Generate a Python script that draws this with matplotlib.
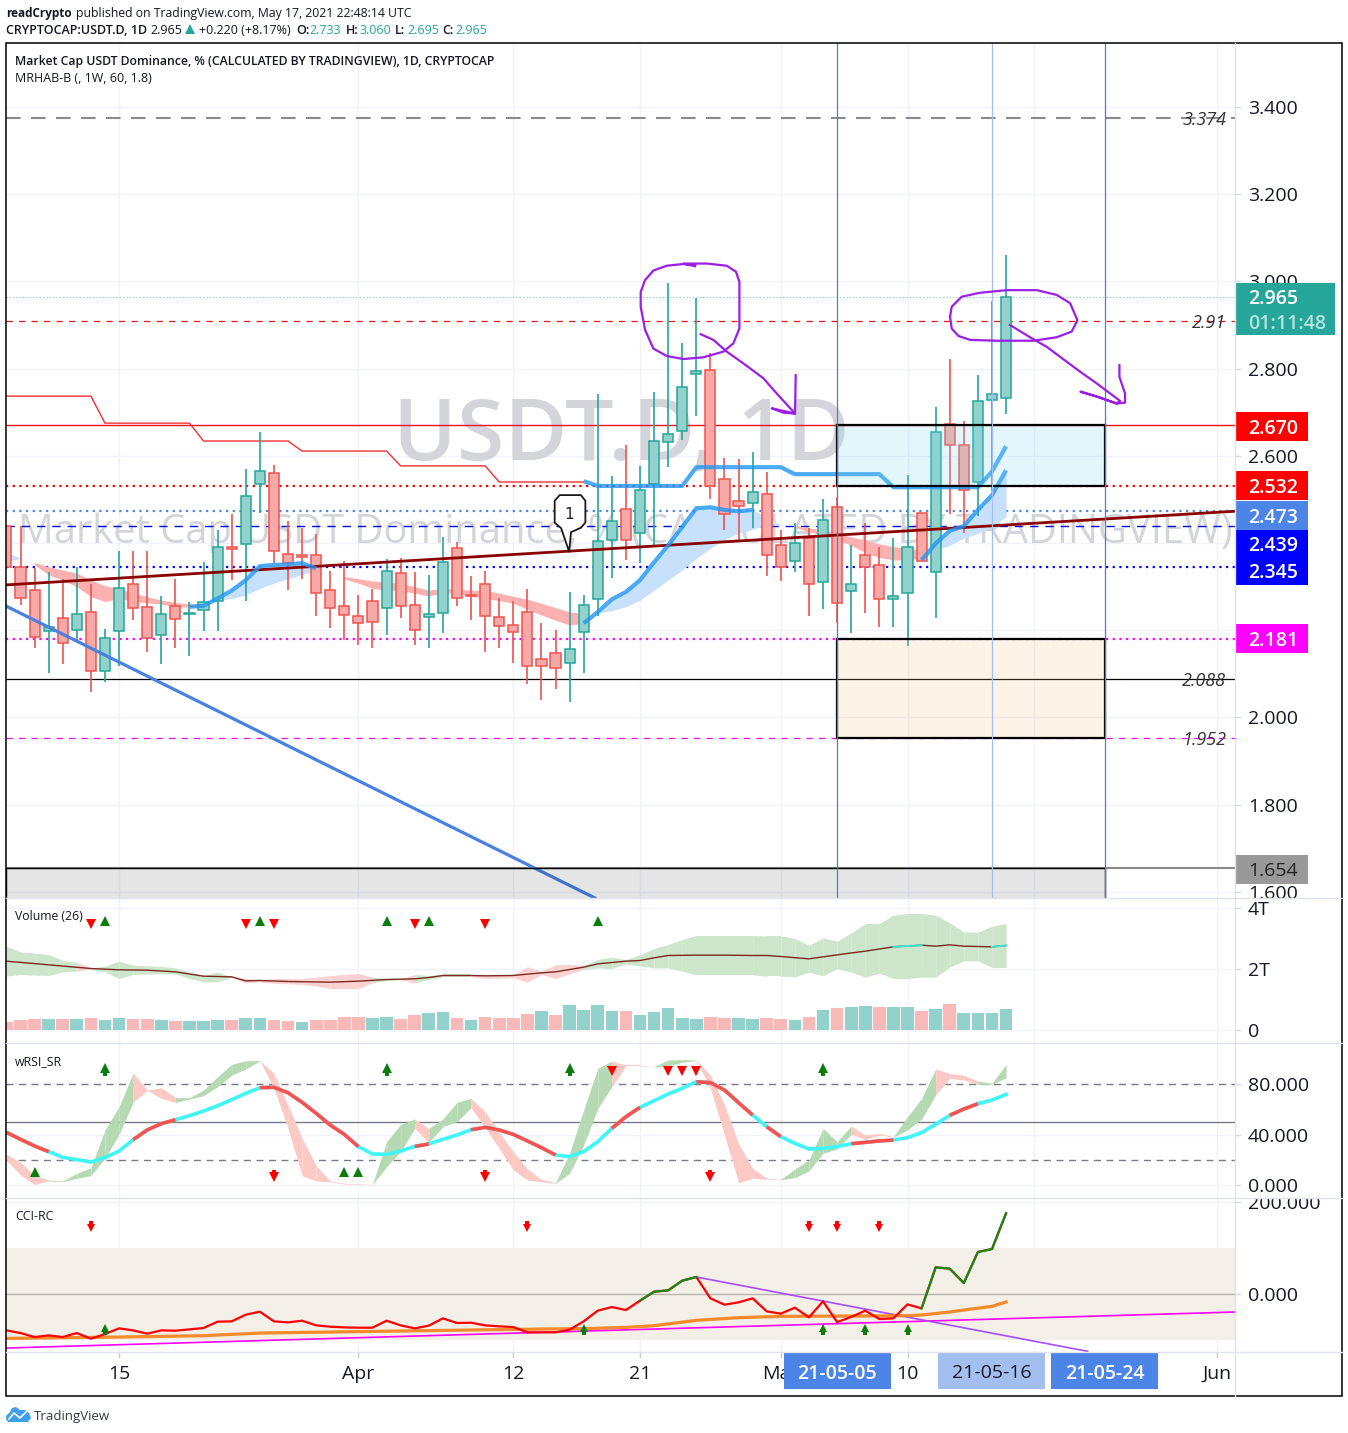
#USDT.D daily chart, days counted from Mar 15 2021
import numpy as np
import matplotlib
matplotlib.use('Agg')
import matplotlib.pyplot as plt
from matplotlib.patches import Rectangle, Polygon, FancyBboxPatch

W, H = 1348, 1433
plt.rcParams['font.family'] = ['Open Sans', 'DejaVu Sans']

days = np.arange(-8, 64)
opens = [2.440,2.344,2.292,2.199,2.227,2.200,2.243,2.106,2.198,2.305,2.253,2.188,2.255,2.238,2.246,2.266,2.392,2.397,2.535,2.560,2.376,2.372,2.372,2.292,2.255,2.232,2.266,2.250,2.331,2.259,2.230,2.239,
         2.388,2.282,2.305,2.231,2.211,2.241,2.135,2.147,2.126,2.197,2.271,2.408,2.477,2.424,2.535,2.631,2.656,2.787,2.796,2.546,2.496,2.491,2.512,2.395,2.358,2.411,2.310,2.482,2.291,2.372,2.349,2.271,2.285,2.468,2.333,2.674,2.626,2.541,2.727,2.733]
highs = [2.440,2.440,2.342,2.333,2.317,2.346,2.306,2.203,2.381,2.381,2.381,2.278,2.317,2.264,2.356,2.431,2.466,2.569,2.654,2.578,2.450,2.434,2.420,2.335,2.358,2.282,2.294,2.363,2.365,2.333,2.326,2.413,
         2.402,2.324,2.337,2.275,2.266,2.294,2.216,2.200,2.287,2.280,2.741,2.553,2.624,2.576,2.746,2.996,2.858,2.961,2.837,2.594,2.592,2.608,2.564,2.431,2.447,2.434,2.500,2.505,2.395,2.447,2.390,2.411,2.557,2.468,2.713,2.821,2.681,2.785,2.955,3.060]
lows = [2.344,2.258,2.160,2.103,2.123,2.178,2.059,2.082,2.117,2.224,2.151,2.123,2.160,2.142,2.199,2.199,2.315,2.268,2.470,2.354,2.293,2.318,2.233,2.206,2.177,2.167,2.160,2.189,2.227,2.167,2.160,2.194,
        2.256,2.224,2.151,2.160,2.126,2.077,2.041,2.066,2.035,2.103,2.233,2.320,2.362,2.355,2.395,2.575,2.637,2.692,2.500,2.429,2.406,2.434,2.325,2.314,2.333,2.233,2.249,2.216,2.193,2.239,2.208,2.208,2.165,2.358,2.229,2.466,2.424,2.461,2.519,2.695]
closes = [2.344,2.273,2.185,2.207,2.170,2.237,2.106,2.182,2.298,2.250,2.182,2.237,2.225,2.239,2.264,2.390,2.386,2.507,2.565,2.381,2.354,2.369,2.285,2.250,2.234,2.216,2.218,2.335,2.255,2.200,2.237,2.356,
          2.273,2.278,2.232,2.209,2.195,2.117,2.117,2.113,2.156,2.259,2.404,2.450,2.406,2.521,2.633,2.649,2.759,2.794,2.532,2.466,2.484,2.516,2.372,2.346,2.399,2.305,2.452,2.262,2.307,2.346,2.271,2.278,2.390,2.358,2.654,2.626,2.521,2.725,2.741,2.965]

# step line and thick band lines on the price pane
step_days = [-8,-2,-1,5,6,12,13,19,20,26,27,33]
step_vals = [2.737,2.737,2.675,2.675,2.634,2.634,2.611,2.611,2.577,2.577,2.540,2.540]
upper_days = [33,34,40,41,47,48,54,55,61,62,63]
upper_vals = [2.542,2.531,2.531,2.574,2.574,2.558,2.558,2.528,2.528,2.564,2.622]
blue_a_days = [5,6,7,8,9,10,11,12,13,14]
blue_a = [2.254,2.256,2.273,2.291,2.315,2.347,2.350,2.351,2.354,2.342]
blue_a_low = [2.254,2.256,2.268,2.273,2.281,2.296,2.308,2.318,2.328,2.338]
blue_b_days = [33,34,35,36,37,38,39,40,41,42,43,44,45]
blue_b = [2.216,2.242,2.271,2.288,2.315,2.356,2.395,2.437,2.480,2.482,2.476,2.473,2.476]
blue_b_low = [2.216,2.239,2.245,2.254,2.269,2.292,2.315,2.338,2.365,2.388,2.408,2.422,2.431]
blue_b_tail_days = [45,46,47]
blue_b_tail = [2.476,2.460,2.441]
blue_b_tail_low = [2.431,2.444,2.441]
blue_c_days = [57,58,59,60,61,62,63]
blue_c = [2.361,2.399,2.428,2.439,2.476,2.510,2.567]
blue_c_low = [2.361,2.384,2.395,2.411,2.422,2.437,2.460]
blue_0_days = [-8,-7]
blue_0 = [2.380,2.365]
blue_0_low = [2.357,2.365]
red_a_days = [-6,-5,-4,-3,-2,-1,0,1,2,3,4,5,6]
red_a = [2.355,2.346,2.338,2.331,2.315,2.302,2.296,2.285,2.277,2.269,2.264,2.260,2.260]
red_a_low = [2.350,2.327,2.315,2.300,2.277,2.266,2.273,2.266,2.263,2.260,2.254,2.253,2.256]
red_b_days = list(range(16, 34))
red_b = [2.323,2.318,2.313,2.311,2.308,2.300,2.292,2.296,2.294,2.292,2.291,2.285,2.278,2.271,2.262,2.252,2.242,2.239]
red_b_low = [2.318,2.308,2.296,2.292,2.291,2.285,2.278,2.287,2.285,2.278,2.273,2.268,2.262,2.248,2.235,2.223,2.212,2.216]
red_c_days = list(range(48, 58))
red_c = [2.441,2.434,2.431,2.422,2.414,2.407,2.398,2.392,2.388,2.384]
red_c_low = [2.436,2.426,2.418,2.407,2.395,2.378,2.367,2.361,2.362,2.365]

# hand drawn purple marks, (day, price)
ring1_d = [40.91,40.08,41.74,43.16,43.82,44.06,44.06,43.63,42.92,41.50,40.08,38.90,37.95,37.36,37.05,37.05,37.36,37.95,38.90,40.08,40.91]
ring1_p = [3.035,3.041,3.041,3.036,3.022,2.999,2.892,2.858,2.839,2.826,2.822,2.829,2.846,2.889,2.942,2.976,3.003,3.025,3.036,3.040,3.037]
arrow1_d = [41.31,42.21,43.16,44.34,45.76,46.71,48.01,46.36,47.18,48.01,48.06]
arrow1_p = [2.879,2.866,2.839,2.812,2.778,2.743,2.697,2.709,2.699,2.697,2.785]
ring2_d = [59.02,59.14,59.85,61.15,63.05,65.18,66.60,67.55,68.07,67.66,66.60,64.94,62.34,60.44,59.61,59.14,59.02]
ring2_p = [2.919,2.942,2.965,2.974,2.980,2.980,2.969,2.950,2.911,2.885,2.872,2.864,2.864,2.866,2.875,2.892,2.919]
arrow2_d = [63.28,64.70,65.89,66.84,68.26,69.44,71.10,70.86,69.44,68.30,69.44,70.86,71.45,71.45,71.05,71.05]
arrow2_p = [2.900,2.872,2.850,2.827,2.793,2.766,2.726,2.720,2.736,2.747,2.736,2.720,2.722,2.743,2.781,2.808]

# volume pane, T
vol = [.25,.33,.36,.36,.36,.36,.39,.33,.39,.36,.36,.33,.30,.30,.30,.33,.33,.39,.39,.33,.30,.26,.33,.33,.43,.43,.39,.43,.36,.49,.56,.59,
       .39,.33,.43,.39,.39,.52,.62,.49,.82,.66,.82,.62,.62,.49,.59,.72,.39,.36,.43,.39,.39,.36,.39,.36,.33,.43,.66,.72,.75,.79,.75,.75,.75,.62,.69,.85,.56,.56,.56,.69]
vol_up = [0,0,0,1,0,1,0,1,1,0,0,1,0,1,1,1,0,1,1,0,0,1,0,0,0,0,1,1,0,0,1,1,
          0,1,0,0,0,0,1,0,1,1,1,1,0,1,1,1,1,1,0,0,1,1,0,0,1,0,1,0,1,1,0,1,1,0,1,0,1,1,1,1]
vol_ma_days = [-8,-5,-2,0,2,4,6,8,9,10,12,15,17,19,21,22,23,25,26,28,30,31,32,33,34,36,37,38,39,41,43,45,46,47,49,51,53,55,57,58,59,60,62,63]
vol_ma = [2.257,2.137,2.016,1.973,1.962,1.907,1.765,1.743,1.612,1.623,1.590,1.568,1.601,1.656,1.678,1.721,1.787,1.787,1.776,1.787,1.874,1.907,1.984,2.060,2.169,2.257,2.279,2.366,2.443,2.454,2.454,2.443,2.443,2.410,2.333,2.464,2.585,2.727,2.781,2.749,2.792,2.749,2.727,2.770]
vol_hi = [2.749,2.563,2.519,2.475,2.279,2.224,2.038,2.093,2.257,2.126,2.104,2.082,2.038,1.907,1.787,1.896,1.743,1.689,1.656,1.689,1.689,1.689,1.732,1.787,1.820,1.852,1.732,1.689,1.678,1.820,1.787,1.820,
          1.820,1.820,1.820,1.820,1.820,2.071,1.929,2.137,2.148,2.126,2.311,2.388,2.311,2.475,2.672,2.803,2.967,3.098,3.098,3.098,3.098,3.098,3.087,3.087,3.000,2.781,3.022,2.913,3.186,3.492,3.492,3.765,3.820,3.820,3.765,3.514,3.219,3.208,3.404,3.492]
vol_lo = [1.765,1.820,1.798,1.787,1.907,1.929,1.995,1.907,1.689,1.820,1.831,1.842,1.842,1.689,1.579,1.579,1.721,1.546,1.579,1.525,1.514,1.492,1.437,1.361,1.361,1.361,1.546,1.623,1.645,1.546,1.656,1.743,
          1.743,1.743,1.689,1.699,1.710,1.568,1.820,1.689,1.842,1.984,2.038,2.016,2.169,2.093,2.038,2.038,1.929,1.809,1.809,1.809,1.809,1.809,1.765,1.765,1.743,1.896,1.776,2.016,1.896,1.732,1.863,1.689,1.689,1.732,1.732,2.060,2.268,2.268,2.049,2.049]
vol_red_days = [-2,9,10,11,12,13,14,15,16,17,18,21,26,27,28,29,30,31,32,33]
vol_up_days = [-1,10,19,22,34]
vol_dn_days = [-2,9,11,21,26]

# wRSI pane
rsi_ma = [41.7,36.2,30.9,26.4,21.9,20.1,18.2,21.7,26.9,35.9,43.6,48.6,51.7,54.9,58.6,62.8,67.6,72.6,77.1,77.4,73.1,65.5,56.8,47.5,40.1,30.4,24.6,24.3,26.9,30.6,32.5,36.2,
          39.6,43.8,45.7,43.6,40.1,34.9,29.6,23.8,22.4,26.4,34.3,44.9,54.1,61.5,66.8,72.1,76.6,81.8,81.1,75.2,65.2,55.4,46.2,38.3,33.0,28.5,29.0,30.4,32.7,33.8,34.9,35.6,37.5,41.5,48.1,55.2,60.2,64.4,67.3,71.8]
rsi_red_spans = [(-8,-5),(1,4),(10,17),(21,22),(25,31),(35,37),(41,45),(46,47),(52,55),(59,61)]
rsi_hi = [24.3,18.0,7.4,4.0,3.2,9.2,13.7,43.6,62.0,88.7,75.2,77.1,69.2,69.2,75.2,85.8,95.6,98.5,98.5,88.4,63.4,37.0,15.3,3.2,1.3,.8,.5,34.3,48.0,52.3,44.9,52.3,
          65.5,68.6,58.1,41.7,26.4,12.7,4.5,1.8,25.1,59.4,92.4,98.2,95.0,95.0,93.7,99.0,99.3,99.0,87.1,63.4,33.0,13.2,5.3,4.5,12.7,19.8,44.9,34.3,46.7,39.6,40.9,38.3,54.1,68.6,91.9,88.4,87.1,82.4,80.5,95.6]
rsi_lo = [19.8,7.9,.5,3.2,2.6,5.3,7.4,21.1,40.1,65.5,75.0,68.6,65.5,68.1,70.8,77.9,87.1,91.9,98.2,76.6,44.9,7.4,3.2,2.4,.8,.3,.3,14.5,26.4,44.9,33.8,46.2,
          50.2,61.2,45.4,29.0,11.9,4.0,2.6,1.3,9.2,31.7,60.7,77.9,94.5,94.5,93.5,94.5,97.2,98.7,76.6,39.6,1.8,5.3,4.5,4.2,5.8,11.1,25.1,28.5,40.1,36.2,39.6,38.0,43.6,52.3,71.3,84.5,83.2,79.7,79.7,85.0]
rsi_green_days = [-4,-3,-2,-1,0,1,5,6,7,8,9,10,19,20,21,23,24,25,32,33,34,35,39,40,41,48,49,50,51,52,56,57,58,62,63]
rsi_arrow_up = [-1,19,32,50]
rsi_tri_dn = [35,39,40,41]
rsi_tri_up = [-6,16,17]
rsi_arrow_dn = [11,26,42]

# CCI pane
cci = [-79.0,-84.8,-93.5,-89.9,-93.5,-84.8,-97.1,-87.0,-74.6,-79.0,-86.2,-79.0,-79.7,-76.8,-73.9,-60.1,-59.4,-44.9,-38.4,-59.4,-61.6,-58.0,-68.1,-71.0,-72.5,-73.2,-73.2,-58.0,-68.1,-74.6,-68.8,-52.9,
       -63.0,-62.3,-68.1,-70.3,-71.7,-83.3,-83.3,-83.3,-77.5,-59.4,-36.2,-28.3,-34.8,-14.5,5.1,8.0,29.0,37.0,-9.4,-23.2,-18.1,-9.4,-37.7,-42.7,-29.7,-50.7,-15.9,-60.9,-50.0,-36.2,-54.3,-52.9,-22.5,-31.2,58.0,55.1,23.9,91.3,97.8,175.4]
cci_green_spans = [(37,41),(57,63)]
cci_ma_days = [-8,0,6,10,15,20,25,30,33,36,38,41,44,47,52,56,57,59,60,62,63]
cci_ma = [-96.4,-93.5,-90.6,-84.8,-82.6,-80.4,-78.2,-76.1,-75.3,-72.5,-68.8,-57.2,-51.4,-48.5,-47.8,-47.1,-45.6,-39.1,-34.8,-26.8,-17.4]
cci_arrow_dn = [-2,29,49,51,54]
cci_arrow_up = [-1,33,50,53,56]

# axis ticks
price_ticks = [3.4,3.2,3.0,2.8,2.6,2.4,2.2,2.0,1.8,1.6]
grid_days = [0,17,28,37,47,56,65,78]
x_labels = ['15','Apr','12','21','May','10','20','Jun']

TEAL = '#26a69a'
CORAL = '#ef5350'
PURPLE = '#9c1fe8'
XLIM = (-8.03, 79.26)
VC = 'center_baseline'


def panel(y0, y1, ylim):
    # y0, y1 are pixel rows from the top of the figure
    ax = fig.add_axes([6/W, 1-y1/H, 1229/W, (y1-y0)/H])
    ax.set_xlim(*XLIM)
    ax.set_ylim(*ylim)
    ax.set_xticks([])
    ax.set_yticks([])
    for s in ax.spines.values():
        s.set_visible(False)
    for d in grid_days:
        ax.axvline(d, color='#f0f3fa', lw=1, zorder=0)
    sc = fig.add_axes([1235/W, 1-y1/H, 107/W, (y1-y0)/H])
    sc.set_xlim(0, 107)
    sc.set_ylim(*ylim)
    sc.axis('off')
    return ax, sc


def ticks(ax, sc, vals, labels, fs=14):
    for v, s in zip(vals, labels):
        ax.axhline(v, color='#f0f3fa', lw=1, zorder=0)
        sc.plot([0, 5], [v, v], color='#d6d8de', lw=1, clip_on=True, zorder=1)
        sc.text(13, v, s, fontsize=fs, color='#131722', va=VC, ha='left', clip_on=True, zorder=2)


def tag(sc, v, s, bg, fg='white', weight='semibold', w=73, h_px=29, pane_h=855, yr=1.9608):
    # coloured price tag on the scale, v is where the tag sits
    dy = h_px/pane_h*yr
    sc.add_patch(Rectangle((0, v-dy/2), w, dy, fc=bg, ec='none', zorder=5))
    sc.text(13, v, s, fontsize=14, color=fg, va=VC, ha='left', fontweight=weight, zorder=6)


def arrow_marks(ax, ds, v, up, color, ms=6.5):
    # little block arrows: triangle head plus a stem
    dy = (ax.get_ylim()[1]-ax.get_ylim()[0])/ax.get_window_extent().height
    sign = 1 if up else -1
    ax.plot(ds, [v+sign*3*dy]*len(ds), ls='none', marker='^' if up else 'v', ms=ms, color=color, mew=0, zorder=8)
    ax.plot(ds, [v-sign*2.5*dy]*len(ds), ls='none', marker='s', ms=3.2, color=color, mew=0, zorder=8)


fig = plt.figure(figsize=(W/100, H/100), dpi=100, facecolor='white')

# ---- price pane
ax, sc = panel(43, 898, (1.586, 3.5468))
ticks(ax, sc, price_ticks, ['%.3f' % p for p in price_ticks])

ax.text(35.7, 2.590, 'USDT.D, 1D', fontsize=62, color='#d3d5da', ha='center', va='baseline', fontweight='semibold', zorder=1)
ax.text(35.93, 2.400, 'Market Cap USDT Dominance, % (CALCULATED BY TRADINGVIEW)', fontsize=28.7, color='#d3d5da', ha='center', va='baseline', zorder=1)

ax.axhline(3.374, color='#8a8a8a', lw=1.5, dashes=(7, 5), zorder=2)
ax.axhline(2.965, color=TEAL, lw=0.8, ls=(0, (1, 2)), alpha=.6, zorder=2)
ax.axhline(2.909, color='#e8141c', lw=0.9, dashes=(5, 5), zorder=2)
ax.axhline(2.670, color='#e8141c', lw=1, zorder=2)
ax.axhline(2.532, color='#ff0000', lw=1.6, ls=(0, (1, 2)), zorder=2)
ax.axhline(2.473, color='#4d84e8', lw=1.6, ls=(0, (1, 2)), zorder=2)
ax.axhline(2.439, color='#0000ff', lw=1, dashes=(6, 5), zorder=2)
ax.axhline(2.345, color='#0000ff', lw=1.6, ls=(0, (1, 2)), zorder=2)
ax.axhline(2.181, color='#ff00ff', lw=1.6, ls=(0, (1, 2)), zorder=2)
ax.axhline(2.088, color='black', lw=0.9, zorder=2)
ax.axhline(1.952, color='#ff00ff', lw=0.9, dashes=(5, 5), zorder=2)
ax.axhline(1.654, color='#8a8a8a', lw=1.5, zorder=2)

ax.plot(step_days, step_vals, color='#f23030', lw=1, zorder=3)
for dd, top, low, col in [(blue_0_days, blue_0, blue_0_low, '#c7e1fd'),
                          (blue_a_days, blue_a, blue_a_low, '#c7e1fd'),
                          (blue_b_days, blue_b, blue_b_low, '#c7e1fd'),
                          (blue_b_tail_days, blue_b_tail, blue_b_tail_low, '#c7e1fd'),
                          (blue_c_days, blue_c, blue_c_low, '#c7e1fd'),
                          (red_a_days, red_a, red_a_low, '#fdb0b0'),
                          (red_b_days, red_b, red_b_low, '#fdb0b0'),
                          (red_c_days, red_c, red_c_low, '#fdb0b0')]:
    ax.fill_between(dd, top, low, color=col, lw=0, zorder=3)

# candles
opens_a, closes_a, highs_a, lows_a = map(np.array, (opens, closes, highs, lows))
up = closes_a >= opens_a
cols = np.where(up, TEAL, CORAL)
ax.vlines(days, lows_a, highs_a, colors=cols, lw=1.2, zorder=4)
tops = np.maximum(opens_a, closes_a)
bots = np.minimum(opens_a, closes_a)
ax.bar(days[up], (tops-bots)[up], bottom=bots[up], width=.72, color='#93d2cc', edgecolor=TEAL, lw=1.1, zorder=4.2)
ax.bar(days[~up], (tops-bots)[~up], bottom=bots[~up], width=.72, color='#f7a9a7', edgecolor=CORAL, lw=1.1, zorder=4.2)

# trend lines over the candles
ax.plot(XLIM, [2.304, 2.473], color='#8b0000', lw=2, zorder=5)
ax.plot([-8.03, 33.8], [2.2555, 1.586], color='#4a80e0', lw=2.3, zorder=5)
for dd, vv in [(upper_days, upper_vals), (blue_a_days, blue_a), (blue_b_days, blue_b), (blue_c_days, blue_c)]:
    ax.plot(dd, vv, color='#2196f3', lw=3, alpha=.8, solid_capstyle='butt', zorder=5)

# boxes and vertical markers
ax.add_patch(Rectangle((51, 2.532), 19.03, .138, fc=(0.49, 0.847, 0.933, .22), ec='black', lw=1.6, zorder=6))
ax.add_patch(Rectangle((51, 1.952), 19.03, .229, fc=(0.96, 0.765, 0.51, .2), ec='black', lw=1.6, zorder=6))
ax.add_patch(Rectangle((-8.03, 1.5), 78.06, .1546, fc=(0, 0, 0, .1), ec='black', lw=1, zorder=6))
ax.axvline(51, color='#4d7fc8', lw=.9, zorder=6)
ax.axvline(70, color='#4d7fc8', lw=.9, zorder=6)
ax.axvline(62, color='#a3bff0', lw=.9, zorder=6)

# balloon note
note_d = [31.3,32.8,33.12,33.12,32.8,32.1,31.97,31.4,30.94,30.94,31.3]
note_p = [2.510,2.510,2.497,2.447,2.435,2.425,2.380,2.434,2.447,2.497,2.510]
ax.add_patch(Polygon(np.column_stack([note_d, note_p]), closed=True, fc='white', ec='#1a1a1a', lw=1.3, joinstyle='round', zorder=7))
ax.text(31.99, 2.468, '1', fontsize=11, ha='center', va=VC, color='#222222', family='DejaVu Sans', zorder=8)

for dd, pp in [(ring1_d, ring1_p), (arrow1_d, arrow1_p), (ring2_d, ring2_p), (arrow2_d, arrow2_p)]:
    ax.plot(dd, pp, color=PURPLE, lw=1.6, solid_joinstyle='round', zorder=9)

for v, s in [(3.374, '3.374'), (2.909, '2.91'), (2.088, '2.088'), (1.952, '1.952')]:
    ax.text(78.65, v, s, fontsize=13, style='italic', color='#333333', ha='right', va=VC, zorder=9)

# price tags
sc.add_patch(FancyBboxPatch((0, 2.877), 100, .119, boxstyle='square,pad=0', fc=TEAL, ec='none', zorder=5))
sc.text(13, 2.965, '2.965', fontsize=14, color='white', fontweight='semibold', va=VC, zorder=6)
sc.text(13, 2.909, '01:11:48', fontsize=14, color='#b5e3de', fontweight='semibold', va=VC, zorder=6)
tag(sc, 2.668, '2.670', '#ff0000')
tag(sc, 2.531, '2.532', '#ff0000')
tag(sc, 2.336, '2.345', '#0000ff')
tag(sc, 2.400, '2.439', '#0000ff')
tag(sc, 2.464, '2.473', '#4d84e8')
tag(sc, 2.180, '2.181', '#ff00ff')
tag(sc, 1.652, '1.654', '#999999', fg='#222222', weight='normal')

# ---- volume pane
ax, sc = panel(898, 1043, (-0.426, 4.328))
ticks(ax, sc, [0, 2, 4], ['0', '2T', '4T'])
vol_a = np.array(vol)
v_up = np.array(vol_up, dtype=bool)
ax.bar(days[v_up], vol_a[v_up], width=.9, color='#93d2cc', zorder=2)
ax.bar(days[~v_up], vol_a[~v_up], width=.9, color='#f9b9b9', zorder=2)
red_mask = np.isin(days, vol_red_days)
for i in range(len(days)-1):
    c = '#fbd1d1' if red_mask[i+1] else '#cde5cb'
    ax.fill_between(days[i:i+2], vol_hi[i:i+2], vol_lo[i:i+2], color=c, lw=0, zorder=2)
ax.plot(vol_ma_days, vol_ma, color='#7a2a20', lw=1, zorder=3)
ax.plot(vol_ma_days[-7:-5], vol_ma[-7:-5], color='#40e0d0', lw=1.4, zorder=3.1)
ax.plot(vol_ma_days[-2:], vol_ma[-2:], color='#40e0d0', lw=1.4, zorder=3.1)
ax.plot(vol_up_days, [3.56]*len(vol_up_days), ls='none', marker='^', ms=7.5, color='#0a7d0a', mew=0, zorder=4)
ax.plot(vol_dn_days, [3.46]*len(vol_dn_days), ls='none', marker='v', ms=7.5, color='#ff0000', mew=0, zorder=4)

# ---- wRSI pane
ax, sc = panel(1043, 1198, (-10.3, 112.5))
ticks(ax, sc, [0, 40, 80], ['0.000', '40.000', '80.000'])
ax.axhline(80, color='#787b86', lw=1, dashes=(5, 4), zorder=1)
ax.axhline(20, color='#787b86', lw=1, dashes=(5, 4), zorder=1)
ax.axhline(50, color='#787b86', lw=1, zorder=1)
green_mask = np.isin(days, rsi_green_days)
for i in range(len(days)-1):
    c = '#b5d9b3' if green_mask[i+1] else '#fdc9c5'
    ax.fill_between(days[i:i+2], rsi_hi[i:i+2], rsi_lo[i:i+2], color=c, lw=0, zorder=2)
ax.plot(days, rsi_ma, color='#40f5f5', lw=2.6, zorder=3)
rsi_a = np.array(rsi_ma)
for a, b in rsi_red_spans:
    m = (days >= a) & (days <= b)
    ax.plot(days[m], rsi_a[m], color='#ff5050', lw=2.6, solid_capstyle='butt', zorder=3.1)
arrow_marks(ax, rsi_arrow_up, 90.3, True, '#0a7d0a')
ax.plot(rsi_tri_dn, [90.3]*4, ls='none', marker='v', ms=7.5, color='#ff0000', mew=0, zorder=8)
ax.plot(rsi_tri_up, [10.3]*3, ls='none', marker='^', ms=7.5, color='#0a7d0a', mew=0, zorder=8)
arrow_marks(ax, rsi_arrow_dn, 8.7, False, '#ff0000')

# ---- CCI pane
ax, sc = panel(1198, 1352, (-126, 208.7))
ticks(ax, sc, [0, 200], ['0.000', '200.000'])
ax.axhspan(-100, 100, fc='#f4f0e8', ec='none', zorder=1)
ax.axhline(0, color='#b8b3ac', lw=1, zorder=2)
ax.plot(XLIM, [-117.4, -39.1], color='#ff00ff', lw=1.2, zorder=3)
ax.plot([41, 68.8], [37, -124.6], color='#a64dff', lw=1.2, zorder=3)
ax.plot(cci_ma_days, cci_ma, color='#f57f17', lw=2.3, alpha=.9, zorder=4)
ax.plot(days, cci, color='#ff0000', lw=1.6, zorder=5)
cci_a = np.array(cci)
for a, b in cci_green_spans:
    m = (days >= a) & (days <= b)
    ax.plot(days[m], cci_a[m], color='#138a13', lw=1.6, zorder=5.1)
arrow_marks(ax, cci_arrow_dn, 150, False, '#ff0000', ms=5.5)
arrow_marks(ax, cci_arrow_up, -80, True, '#0a7d0a', ms=5.5)

# ---- time axis
tx = fig.add_axes([6/W, 1-1396/H, 1229/W, 44/H])
tx.set_xlim(*XLIM)
tx.set_ylim(44, 0)
tx.axis('off')
for d, s in zip(grid_days, x_labels):
    tx.plot([d, d], [0, 5], color='#c8cad0', lw=1)
    tx.text(d, 20, s, fontsize=14, color='#131722', ha='center', va=VC, clip_on=True)
for d, s, bg, fg in [(51, '21-05-05', '#4d84e8', 'white'), (62, '21-05-16', '#a3bff0', '#131722'), (70, '21-05-24', '#4d84e8', 'white')]:
    tx.add_patch(Rectangle((d-3.8, 0), 7.6, 37, fc=bg, ec='none', zorder=5))
    tx.text(d, 19.5, s, fontsize=14, color=fg, ha='center', va=VC, fontweight='semibold' if fg == 'white' else 'normal', zorder=6)

# ---- frame and separators, on a full figure overlay in pixels
ov = fig.add_axes([0, 0, 1, 1], facecolor='none')
ov.set_xlim(0, W)
ov.set_ylim(H, 0)
ov.axis('off')
for y in [898, 1043, 1198, 1352]:
    ov.plot([6, 1342], [y, y], color='#e0e3eb', lw=1)
ov.plot([1235, 1235], [43, 1396], color='#e0e3eb', lw=1)
ov.add_patch(Rectangle((6, 43), 1336, 1353, fc='none', ec='black', lw=1.1))

ov.text(15, 60, 'Market Cap USDT Dominance, % (CALCULATED BY TRADINGVIEW), 1D, CRYPTOCAP', fontsize=8.8, fontweight='semibold', color='#131722', va=VC)
ov.text(15, 77, 'MRHAB-B (, 1W, 60, 1.8)', fontsize=9, color='#131722', va=VC)
ov.text(15, 915, 'Volume (26)', fontsize=8.8, color='#131722', va=VC)
ov.text(15, 1060, 'wRSI_SR', fontsize=8.8, color='#131722', va=VC)
ov.text(15, 1215, 'CCI-RC', fontsize=8.8, color='#131722', va=VC)

# header rows
ov.text(6, 12, 'readCrypto', fontsize=8.5, fontweight='bold', color='#131722', va=VC)
ov.text(76, 12, 'published on TradingView.com, May 17, 2021 22:48:14 UTC', fontsize=8.8, color='#131722', va=VC)
ov.text(6, 29, 'CRYPTOCAP:USDT.D, 1D', fontsize=9, fontweight='semibold', color='#131722', va=VC)
ov.text(150, 29, '2.965', fontsize=9, color='#131722', va=VC)
ov.plot([190], [29], marker='^', ms=7.5, color=TEAL, mew=0)
ov.text(199, 29, '+0.220 (+8.17%)', fontsize=9, color='#131722', va=VC)
for x, lab, val_x, val in [(296, 'O:', 309, '2.733'), (346, 'H:', 359, '3.060'), (395, 'L:', 407, '2.695'), (442, 'C:', 455, '2.965')]:
    ov.text(x, 29, lab, fontsize=9, fontweight='semibold', color='#131722', va=VC)
    ov.text(val_x, 29, val, fontsize=9, color=TEAL, va=VC)

# logo
ov.add_patch(Polygon([(6,1416),(10,1412),(12,1408),(16,1407),(20,1410),(25,1410),(29,1413),(31,1418),(28,1422),(8,1422),(6,1419)], closed=True, fc='#3ea0e8', ec='none'))
ov.plot([9,14,20,26], [1419,1413,1418,1412], color='white', lw=1.2)
ov.text(34, 1415, 'TradingView', fontsize=9.5, color='#333a45', va=VC)

fig.savefig('out.png', dpi=100)
